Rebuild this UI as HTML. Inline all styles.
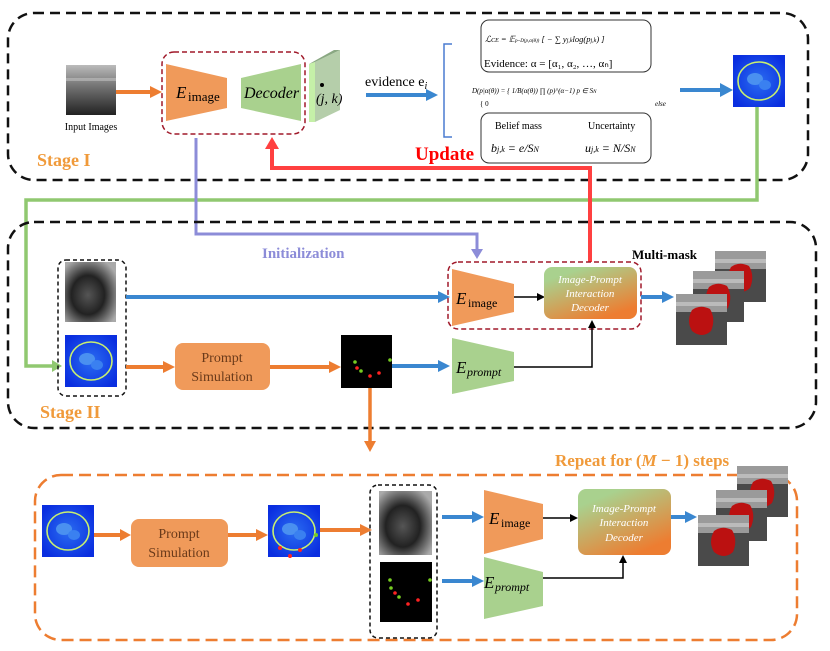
<!DOCTYPE html>
<html><head><meta charset="utf-8"><style>
body{margin:0;background:#fff}
svg{display:block}
text{font-family:"Liberation Serif",serif}
</style></head><body>
<svg width="830" height="651" viewBox="0 0 830 651" xmlns="http://www.w3.org/2000/svg">
<defs>
<linearGradient id="dec" x1="0" y1="0" x2="0.6" y2="1"><stop offset="0.2" stop-color="#a9d18e"/><stop offset="1" stop-color="#ed7d31"/></linearGradient>
<linearGradient id="us" x1="0" y1="0" x2="0" y2="1"><stop offset="0" stop-color="#bbb"/><stop offset="0.4" stop-color="#777"/><stop offset="1" stop-color="#222"/></linearGradient>
<radialGradient id="us2" cx="0.45" cy="0.55" r="0.65"><stop offset="0" stop-color="#555"/><stop offset="0.5" stop-color="#222"/><stop offset="1" stop-color="#aaa"/></radialGradient>
<radialGradient id="hm" cx="0.5" cy="0.5" r="0.6"><stop offset="0" stop-color="#2a6cf0"/><stop offset="1" stop-color="#0a2ee0"/></radialGradient>
<g id="heat"><rect width="52" height="52" fill="url(#hm)"/><ellipse cx="22" cy="24" rx="8" ry="6" fill="#4a90f0"/><ellipse cx="32" cy="30" rx="6" ry="5" fill="#3a80f0"/><ellipse cx="26" cy="26" rx="21" ry="19" fill="none" stroke="#c8f070" stroke-width="1.6"/></g>
<g id="mask"><rect width="51" height="51" fill="#4a4a4a"/><rect width="51" height="18" fill="#9a9a9a"/><rect y="8" width="51" height="4" fill="#bbb"/><path d="M16 16 q8 -6 18 -1 q6 10 1 22 q-9 8 -19 0 q-6 -10 0 -21z" fill="#b11"/></g>
</defs>

<rect x="8" y="13" width="800" height="167" rx="26" fill="none" stroke="#111" stroke-width="2.5" stroke-dasharray="10,6"/>
<rect x="66" y="65" width="50" height="50" fill="url(#us)"/>
<rect x="66" y="78" width="50" height="3" fill="#ccc" opacity="0.5"/>
<text x="91" y="130" font-size="10" text-anchor="middle">Input Images</text>
<line x1="116" y1="92" x2="152" y2="92" stroke="#ed7d31" stroke-width="4"/><polygon points="150,86 162,92 150,98" fill="#ed7d31"/>
<rect x="162" y="52" width="143" height="82" rx="12" fill="none" stroke="#a0192a" stroke-width="1.5" stroke-dasharray="5,3"/>
<polygon points="166,64 227,78 227,108 166,121" fill="#f09a5a"/>
<text x="176" y="98" font-size="17" font-style="italic">E</text><text x="188" y="101" font-size="13">image</text>
<polygon points="241,78 301,64 301,121 241,108" fill="#a9d18e"/>
<text x="244" y="98" font-size="16" font-style="italic">Decoder</text>
<polygon points="309,64 315,62 315,122 309,122" fill="#c5f0a8"/>
<polygon points="315,62 340,50 340,110 315,122" fill="#b5ceaa"/>
<polygon points="309,64 334,50 340,50 315,62" fill="#8aa882"/>
<circle cx="322" cy="85" r="2" fill="#000"/>
<text x="316" y="103" font-size="14" font-style="italic">(j, k)</text>
<text x="365" y="86" font-size="14" font-family="Liberation Sans">evidence e<tspan font-size="10" font-style="italic" dy="3">i</tspan></text>
<line x1="366" y1="95" x2="428" y2="95" stroke="#3a87d0" stroke-width="4"/><polygon points="426,89 438,95 426,101" fill="#3a87d0"/>
<path d="M452 44 H444 V137 H452" fill="none" stroke="#4a7bd0" stroke-width="1.5"/>
<rect x="481" y="20" width="170" height="52" rx="8" fill="none" stroke="#333" stroke-width="1"/>
<text x="485" y="42" font-size="8.5" font-style="italic">ℒ<tspan font-size="6">CE</tspan> = 𝔼<tspan font-size="5">p~D(p,α(θ))</tspan> [ − ∑ y<tspan font-size="6">j,k</tspan>log(p<tspan font-size="6">j,k</tspan>) ]</text>
<text x="484" y="67" font-size="11">Evidence:  α = [α₁, α₂, …, αₙ]</text>
<text x="472" y="93" font-size="7" font-style="italic">D(p|α(θ)) = { 1/B(α(θ)) ∏ (p)^(α−1)     p ∈ S<tspan font-size="5">N</tspan></text>
<text x="480" y="106" font-size="7">{ 0</text><text x="655" y="106" font-size="7" font-style="italic">else</text>
<rect x="481" y="113" width="170" height="50" rx="8" fill="none" stroke="#333" stroke-width="1"/>
<text x="495" y="129" font-size="10">Belief mass</text><text x="588" y="129" font-size="10">Uncertainty</text>
<text x="491" y="152" font-size="12" font-style="italic">b<tspan font-size="8">j,k</tspan> = e/S<tspan font-size="8">N</tspan></text>
<text x="585" y="152" font-size="12" font-style="italic">u<tspan font-size="8">j,k</tspan> = N/S<tspan font-size="8">N</tspan></text>
<line x1="680" y1="90" x2="722" y2="90" stroke="#3a87d0" stroke-width="4"/><polygon points="720,83 733,90 720,97" fill="#3a87d0"/>
<use href="#heat" x="733" y="55"/>
<text x="415" y="160" font-size="19" font-weight="bold" fill="#f00">Update</text>
<text x="37" y="166" font-size="18" font-weight="bold" fill="#f09a3a">Stage I</text>

<path d="M757 107 V200 H26 V366 H54" fill="none" stroke="#90c870" stroke-width="3.5"/><polygon points="52,360 62,366 52,372" fill="#90c870"/>
<path d="M590 262 V168 H272 V147" fill="none" stroke="#ff4040" stroke-width="4"/><polygon points="265,149 272,137 279,149" fill="#ff4040"/>
<path d="M196 138 V234 H477 V250" fill="none" stroke="#8c8cd8" stroke-width="3"/><polygon points="471,249 477,259 483,249" fill="#8c8cd8"/>
<text x="262" y="258" font-size="15" font-weight="bold" font-family="Liberation Sans" fill="#8c8cd8">Initialization</text>

<rect x="8" y="222" width="808" height="206" rx="26" fill="none" stroke="#111" stroke-width="2.5" stroke-dasharray="10,6"/>
<rect x="58" y="260" width="68" height="136" rx="8" fill="none" stroke="#111" stroke-width="1.5" stroke-dasharray="4,3"/>
<rect x="65" y="262" width="51" height="60" fill="url(#us2)"/>
<use href="#heat" x="65" y="335"/>
<line x1="126" y1="297" x2="440" y2="297" stroke="#3a87d0" stroke-width="4"/><polygon points="438,291 450,297 438,303" fill="#3a87d0"/>
<rect x="448" y="262" width="193" height="67" rx="10" fill="none" stroke="#a0192a" stroke-width="1.5" stroke-dasharray="5,3"/>
<polygon points="452,269 514,284 514,312 452,326" fill="#f09a5a"/>
<text x="456" y="304" font-size="17" font-style="italic">E</text><text x="468" y="307" font-size="12">image</text>
<line x1="514" y1="297" x2="538" y2="297" stroke="#000" stroke-width="1.5"/><polygon points="537,293 545,297 537,301" fill="#000"/>
<rect x="544" y="267" width="93" height="52" rx="8" fill="url(#dec)"/>
<text x="590" y="283" font-size="11" font-style="italic" fill="#fff" text-anchor="middle">Image-Prompt</text>
<text x="590" y="297" font-size="11" font-style="italic" fill="#fff" text-anchor="middle">Interaction</text>
<text x="590" y="311" font-size="11" font-style="italic" fill="#fff" text-anchor="middle">Decoder</text>
<line x1="641" y1="297" x2="664" y2="297" stroke="#3a87d0" stroke-width="4"/><polygon points="662,291 674,297 662,303" fill="#3a87d0"/>
<use href="#mask" x="715" y="251"/><use href="#mask" x="693" y="271"/><use href="#mask" x="676" y="294"/>
<text x="632" y="259" font-size="13" font-weight="bold">Multi-mask</text>
<line x1="126" y1="367" x2="165" y2="367" stroke="#ed7d31" stroke-width="4"/><polygon points="163,361 175,367 163,373" fill="#ed7d31"/>
<rect x="175" y="343" width="95" height="47" rx="8" fill="#f09a5a"/>
<text x="222" y="362" font-size="14" text-anchor="middle" fill="#6a3a1a">Prompt</text>
<text x="222" y="381" font-size="14" text-anchor="middle" fill="#6a3a1a">Simulation</text>
<line x1="270" y1="367" x2="331" y2="367" stroke="#ed7d31" stroke-width="4"/><polygon points="329,361 341,367 329,373" fill="#ed7d31"/>
<rect x="341" y="335" width="51" height="53" fill="#000"/>
<circle cx="355" cy="362" r="1.8" fill="#7c2"/><circle cx="357" cy="368" r="1.8" fill="#f22"/><circle cx="361" cy="371" r="1.8" fill="#7c2"/><circle cx="370" cy="376" r="1.8" fill="#f22"/><circle cx="379" cy="373" r="1.8" fill="#f22"/><circle cx="390" cy="360" r="1.8" fill="#7c2"/>
<line x1="392" y1="366" x2="440" y2="366" stroke="#3a87d0" stroke-width="4"/><polygon points="438,360 450,366 438,372" fill="#3a87d0"/>
<polygon points="452,338 514,352 514,381 452,394" fill="#a9d18e"/>
<text x="456" y="373" font-size="17" font-style="italic">E</text><text x="467" y="376" font-size="12" font-style="italic">prompt</text>
<path d="M514 367 H592 V327" fill="none" stroke="#000" stroke-width="1.5"/><polygon points="588,328 592,320 596,328" fill="#000"/>
<text x="40" y="418" font-size="18" font-weight="bold" fill="#f09a3a">Stage II</text>
<line x1="370" y1="388" x2="370" y2="442" stroke="#ed7d31" stroke-width="3.5"/><polygon points="364,441 370,452 376,441" fill="#ed7d31"/>

<text x="555" y="466" font-size="17" font-weight="bold" fill="#f09a3a">Repeat for (<tspan font-style="italic">M</tspan> − 1) steps</text>
<rect x="35" y="475" width="762" height="165" rx="26" fill="none" stroke="#ed7d31" stroke-width="2.5" stroke-dasharray="12,6"/>
<use href="#heat" x="42" y="505"/>
<line x1="94" y1="535" x2="122" y2="535" stroke="#ed7d31" stroke-width="4"/><polygon points="120,529 131,535 120,541" fill="#ed7d31"/>
<rect x="131" y="519" width="97" height="48" rx="8" fill="#f09a5a"/>
<text x="179" y="538" font-size="14" text-anchor="middle" fill="#6a3a1a">Prompt</text>
<text x="179" y="557" font-size="14" text-anchor="middle" fill="#6a3a1a">Simulation</text>
<line x1="228" y1="535" x2="258" y2="535" stroke="#ed7d31" stroke-width="4"/><polygon points="256,529 268,535 256,541" fill="#ed7d31"/>
<use href="#heat" x="268" y="505"/>
<circle cx="280" cy="548" r="2" fill="#f22"/><circle cx="290" cy="556" r="2" fill="#f22"/><circle cx="300" cy="550" r="2" fill="#f22"/><circle cx="316" cy="535" r="2" fill="#7c2"/>
<line x1="320" y1="530" x2="362" y2="530" stroke="#ed7d31" stroke-width="4"/><polygon points="360,524 372,530 360,536" fill="#ed7d31"/>
<rect x="370" y="485" width="67" height="153" rx="8" fill="none" stroke="#111" stroke-width="1.5" stroke-dasharray="4,3"/>
<rect x="379" y="491" width="53" height="64" fill="url(#us2)"/>
<rect x="380" y="562" width="52" height="60" fill="#000"/>
<circle cx="390" cy="580" r="1.8" fill="#7c2"/><circle cx="391" cy="588" r="1.8" fill="#7c2"/><circle cx="395" cy="593" r="1.8" fill="#f22"/><circle cx="399" cy="597" r="1.8" fill="#7c2"/><circle cx="408" cy="604" r="1.8" fill="#f22"/><circle cx="418" cy="600" r="1.8" fill="#f22"/><circle cx="430" cy="580" r="1.8" fill="#7c2"/>
<line x1="442" y1="517" x2="474" y2="517" stroke="#3a87d0" stroke-width="4"/><polygon points="472,511 484,517 472,523" fill="#3a87d0"/>
<line x1="442" y1="581" x2="474" y2="581" stroke="#3a87d0" stroke-width="4"/><polygon points="472,575 484,581 472,587" fill="#3a87d0"/>
<polygon points="484,490 543,504 543,539 484,554" fill="#f09a5a"/>
<text x="489" y="524" font-size="17" font-style="italic">E</text><text x="501" y="527" font-size="12">image</text>
<polygon points="484,557 543,572 543,606 484,619" fill="#a9d18e"/>
<text x="484" y="588" font-size="17" font-style="italic">E</text><text x="495" y="591" font-size="12" font-style="italic">prompt</text>
<line x1="543" y1="518" x2="571" y2="518" stroke="#000" stroke-width="1.5"/><polygon points="570,514 578,518 570,522" fill="#000"/>
<rect x="578" y="489" width="93" height="66" rx="8" fill="url(#dec)"/>
<text x="624" y="512" font-size="11" font-style="italic" fill="#fff" text-anchor="middle">Image-Prompt</text>
<text x="624" y="526" font-size="11" font-style="italic" fill="#fff" text-anchor="middle">Interaction</text>
<text x="624" y="541" font-size="11" font-style="italic" fill="#fff" text-anchor="middle">Decoder</text>
<path d="M543 578 H623 V563" fill="none" stroke="#000" stroke-width="1.5"/><polygon points="619,563 623,555 627,563" fill="#000"/>
<line x1="671" y1="517" x2="687" y2="517" stroke="#3a87d0" stroke-width="4"/><polygon points="685,511 697,517 685,523" fill="#3a87d0"/>
<use href="#mask" x="737" y="466"/><use href="#mask" x="716" y="490"/><use href="#mask" x="698" y="515"/>
</svg>
</body></html>
